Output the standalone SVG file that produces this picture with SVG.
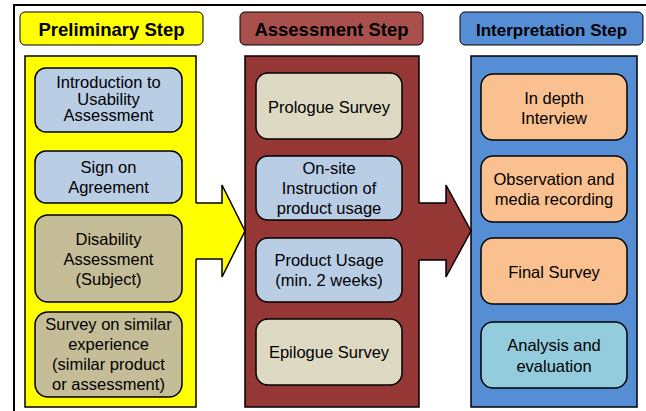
<svg xmlns="http://www.w3.org/2000/svg" width="646" height="411" viewBox="0 0 646 411">
<style>
  text { font-family: "Liberation Sans", Arial, sans-serif; fill: #000; text-anchor: middle; }
  .hdr { font-weight: bold; font-size: 18.5px; }
  .lbl { font-size: 16.5px; }
  .col { stroke: #000; stroke-width: 1.5; }
  .hbox { stroke: #000; stroke-width: 1; }
  .box { stroke: #000; stroke-width: 1.5; }
  .arrow-line { fill: none; stroke: #000; stroke-width: 1.5; stroke-linejoin: miter; }
  .blue { fill: #B9CDE5; }
  .tan { fill: #C4BD97; }
  .beige { fill: #DDD9C3; }
  .peach { fill: #FAC090; }
  .aqua { fill: #93CDDD; }
</style>
<rect x="14" y="5" width="700" height="500" fill="#fff" stroke="#000" stroke-width="2"/>

<g id="step-preliminary">
  <rect class="hbox" x="20" y="12" width="183" height="33" rx="5" fill="#FFFF00"/>
  <text class="hdr" x="111.5" y="36">Preliminary Step</text>
  <rect class="col" x="25" y="56" width="171" height="351" fill="#FFFF00"/>
</g>
<g id="step-assessment">
  <rect class="hbox" x="240" y="12" width="183" height="33" rx="5" fill="#A9504D"/>
  <text class="hdr" x="331.5" y="36">Assessment Step</text>
  <rect class="col" x="245" y="56" width="174" height="351" fill="#953735"/>
</g>
<g id="step-interpretation">
  <rect class="hbox" x="460" y="12" width="183" height="33" rx="5" fill="#558ED5"/>
  <text class="hdr" x="551.5" y="36" style="font-size:17px">Interpretation Step</text>
  <rect class="col" x="471" y="56" width="166" height="351" fill="#558ED5"/>
</g>

<g id="connectors">
  <g id="arrow-prelim-to-assess">
    <polygon points="194.5,203 222,203 222,185 245,231 222,277 222,259 194.5,259" fill="#FFFF00"/>
    <polyline class="arrow-line" points="196,203 222,203 222,185 245,231 222,277 222,259 196,259"/>
  </g>
  <g id="arrow-assess-to-interp">
    <polygon points="417.5,203 446,203 446,185 471,231 446,277 446,260 417.5,260" fill="#953735"/>
    <polyline class="arrow-line" points="419,203 446,203 446,185 471,231 446,277 446,260 419,260"/>
  </g>
</g>

<g id="n-intro">
  <rect class="box blue" x="35" y="68" width="147" height="64" rx="11"/>
  <text class="lbl" x="108.5" y="88">Introduction to</text>
  <text class="lbl" x="108.5" y="104.5">Usability</text>
  <text class="lbl" x="108.5" y="121">Assessment</text>
</g>
<g id="n-sign">
  <rect class="box blue" x="35" y="151" width="147" height="52" rx="11"/>
  <text class="lbl" x="108.5" y="173">Sign on</text>
  <text class="lbl" x="108.5" y="193">Agreement</text>
</g>
<g id="n-disability">
  <rect class="box tan" x="35" y="215" width="147" height="87" rx="13"/>
  <text class="lbl" x="108.5" y="245">Disability</text>
  <text class="lbl" x="108.5" y="265">Assessment</text>
  <text class="lbl" x="108.5" y="285">(Subject)</text>
</g>
<g id="n-survey-similar">
  <rect class="box tan" x="35" y="312" width="147" height="85" rx="13"/>
  <text class="lbl" x="108.5" y="330">Survey on similar</text>
  <text class="lbl" x="108.5" y="350">experience</text>
  <text class="lbl" x="108.5" y="370">(similar product</text>
  <text class="lbl" x="108.5" y="390">or assessment)</text>
</g>

<g id="n-prologue">
  <rect class="box beige" x="256" y="73" width="146" height="66" rx="12"/>
  <text class="lbl" x="329" y="112.5">Prologue Survey</text>
</g>
<g id="n-onsite">
  <rect class="box blue" x="256" y="156" width="146" height="64" rx="12"/>
  <text class="lbl" x="329" y="173.5">On-site</text>
  <text class="lbl" x="329" y="194">Instruction of</text>
  <text class="lbl" x="329" y="213.5">product usage</text>
</g>
<g id="n-usage">
  <rect class="box blue" x="256" y="238" width="146" height="64" rx="12"/>
  <text class="lbl" x="329" y="266">Product Usage</text>
  <text class="lbl" x="329" y="286">(min. 2 weeks)</text>
</g>
<g id="n-epilogue">
  <rect class="box beige" x="256" y="319" width="146" height="66" rx="12"/>
  <text class="lbl" x="329" y="358">Epilogue Survey</text>
</g>

<g id="n-interview">
  <rect class="box peach" x="481" y="74" width="146" height="66" rx="12"/>
  <text class="lbl" x="554" y="104">In depth</text>
  <text class="lbl" x="554" y="124">Interview</text>
</g>
<g id="n-observation">
  <rect class="box peach" x="481" y="156" width="146" height="66" rx="12"/>
  <text class="lbl" x="554" y="185">Observation and</text>
  <text class="lbl" x="554" y="205">media recording</text>
</g>
<g id="n-final">
  <rect class="box peach" x="481" y="238" width="146" height="66" rx="12"/>
  <text class="lbl" x="554" y="278">Final Survey</text>
</g>
<g id="n-analysis">
  <rect class="box aqua" x="481" y="322" width="146" height="66" rx="12"/>
  <text class="lbl" x="554" y="351">Analysis and</text>
  <text class="lbl" x="554" y="371.5">evaluation</text>
</g>
</svg>
